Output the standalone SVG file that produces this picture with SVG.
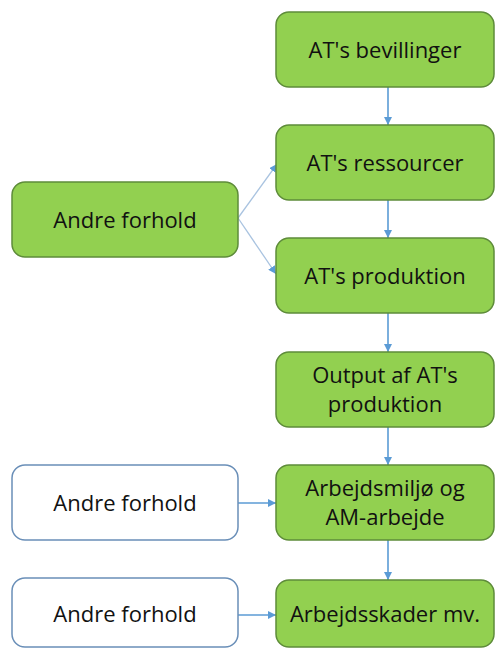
<svg xmlns="http://www.w3.org/2000/svg" width="495" height="650" viewBox="0 0 495 650">
<style>
.g{fill:#92D050;stroke:#5E8C3A;stroke-width:1.5}
.w{fill:#FFFFFF;stroke:#6A8FB8;stroke-width:1.5}
text{font-family:"Open Sans","Noto Sans",sans-serif;font-size:22px;fill:#111;text-anchor:middle}
.c{stroke:#5B9BD5;stroke-width:1.6;fill:none}
.d{stroke:#A9C3E0;stroke-width:1.3;fill:none}
</style>
<defs>
<marker id="ah" viewBox="0 0 10 10" refX="10" refY="5" markerWidth="8" markerHeight="8" markerUnits="userSpaceOnUse" orient="auto">
<path d="M0,0 L10,5 L0,10 z" fill="#5B9BD5"/>
</marker>
</defs>
<g id="connectors">
<line class="c" x1="388" y1="87" x2="388" y2="125" marker-end="url(#ah)"/>
<line class="c" x1="388" y1="200" x2="388" y2="238" marker-end="url(#ah)"/>
<line class="c" x1="388" y1="313" x2="388" y2="352" marker-end="url(#ah)"/>
<line class="c" x1="388" y1="427" x2="388" y2="465" marker-end="url(#ah)"/>
<line class="c" x1="388" y1="540" x2="388" y2="580" marker-end="url(#ah)"/>
<line class="d" x1="238" y1="218" x2="277" y2="164" marker-end="url(#ah)"/>
<line class="d" x1="238" y1="218" x2="276" y2="274" marker-end="url(#ah)"/>
<line class="c" x1="238" y1="503" x2="276" y2="503" stroke-width="1.2" marker-end="url(#ah)"/>
<line class="c" x1="238" y1="615" x2="276" y2="615" stroke-width="1.2" marker-end="url(#ah)"/>
</g>
<g id="n1"><rect class="g" x="276" y="12" width="218" height="75" rx="13"/><text x="385" y="58">AT's bevillinger</text></g>
<g id="n2"><rect class="g" x="276" y="125" width="218" height="75" rx="13"/><text x="385" y="171">AT's ressourcer</text></g>
<g id="n3"><rect class="g" x="276" y="238" width="218" height="75" rx="13"/><text x="385" y="284">AT's produktion</text></g>
<g id="n4"><rect class="g" x="276" y="352" width="218" height="75" rx="13"/><text x="385" y="383">Output af AT's</text><text x="385" y="412">produktion</text></g>
<g id="n5"><rect class="g" x="276" y="465" width="218" height="75" rx="13"/><text x="385" y="496">Arbejdsmiljø og</text><text x="385" y="525">AM-arbejde</text></g>
<g id="n6"><rect class="g" x="276" y="580" width="218" height="67" rx="13"/><text x="385" y="622">Arbejdsskader mv.</text></g>
<g id="a1"><rect class="g" x="12" y="182" width="226" height="75" rx="13"/><text x="125" y="228">Andre forhold</text></g>
<g id="a2"><rect class="w" x="12" y="465" width="226" height="75" rx="13"/><text x="125" y="511">Andre forhold</text></g>
<g id="a3"><rect class="w" x="12" y="578" width="226" height="69" rx="13"/><text x="125" y="622">Andre forhold</text></g>
</svg>
